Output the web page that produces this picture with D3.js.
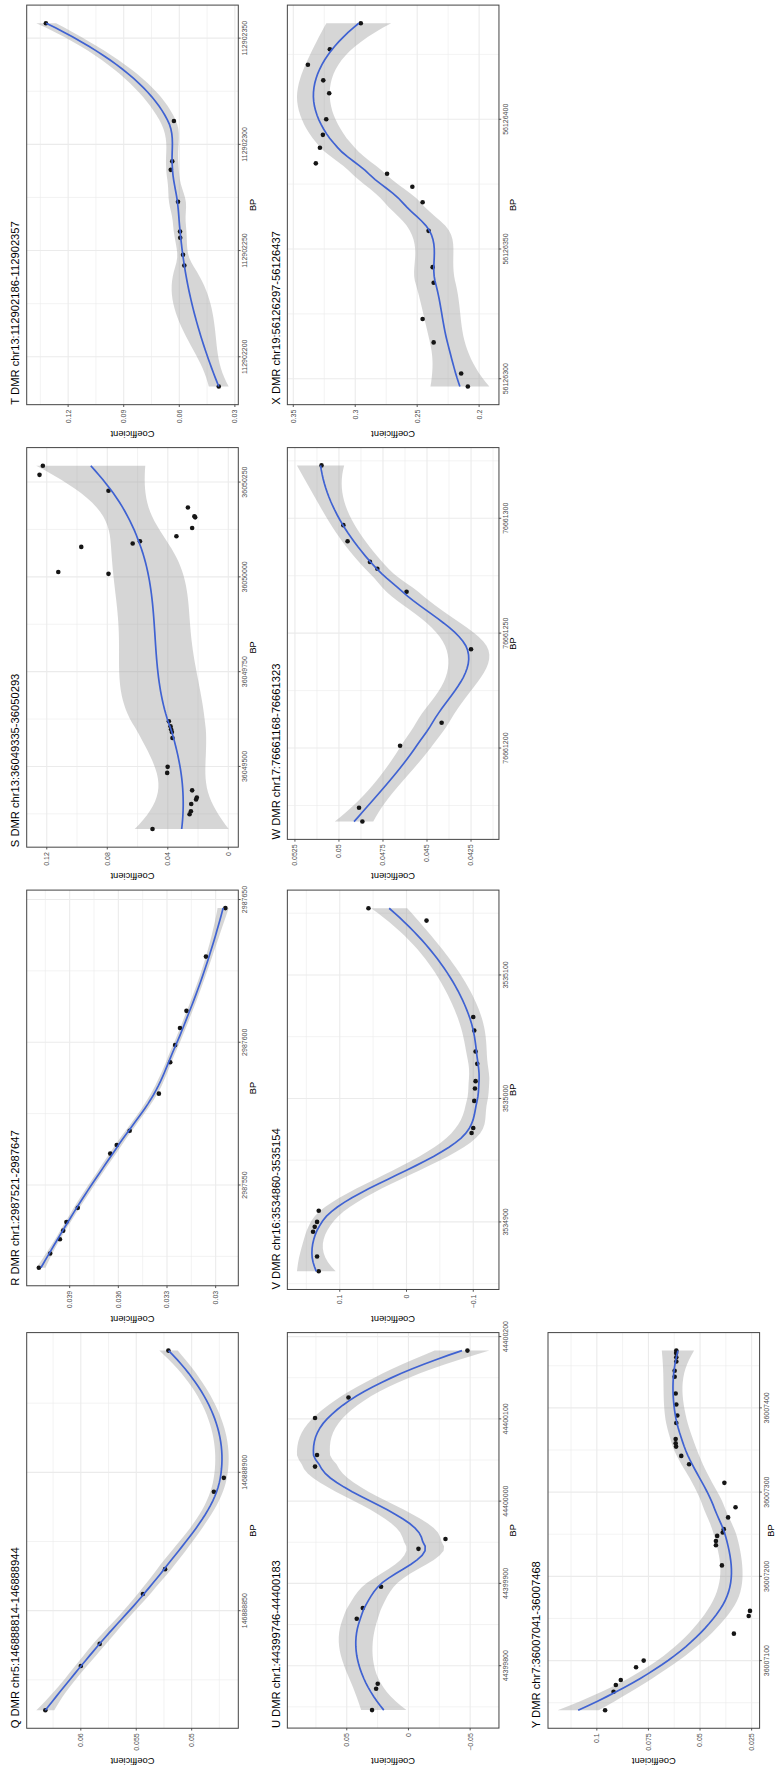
<!DOCTYPE html>
<html>
<head>
<meta charset="utf-8">
<script src="https://cdn.jsdelivr.net/npm/d3@7"></script>
<style>
  html, body { margin: 0; padding: 0; background: #ffffff; }
  svg { display: block; }
  text { font-family: "Liberation Sans", Arial, Helvetica, sans-serif; }
</style>
</head>
<body>
<svg id="fig" width="777" height="1770"></svg>
<script>
// ---- Panel titles ----
const panelTitles = [
  "Q DMR chr5:146888814-146888944",
  "R DMR chr1:2987521-2987647",
  "S DMR chr13:36049335-36050293",
  "T DMR chr13:112902186-112902357",
  "U DMR chr1:44399746-44400183",
  "V DMR chr16:3534860-3535154",
  "W DMR chr17:76661168-76661323",
  "X DMR chr19:56126297-56126437",
  "Y DMR chr7:36007041-36007468"
];

// ---- CpG positions (BP) and coefficients, one pair of arrays per DMR ----
const bpQ = [146888814, 146888830, 146888838, 146888856, 146888865, 146888893, 146888898, 146888944];
const coefQ = [0.0632, 0.0600, 0.0583, 0.0544, 0.0524, 0.0480, 0.0471, 0.0521];

const bpR = [2987521, 2987526, 2987531, 2987534, 2987537, 2987542, 2987561, 2987564, 2987569, 2987582, 2987593, 2987599, 2987605, 2987611, 2987630, 2987647];
const coefR = [0.0409, 0.0402, 0.0396, 0.0394, 0.0392, 0.0385, 0.0365, 0.0361, 0.0353, 0.0335, 0.0328, 0.0325, 0.0322, 0.0318, 0.0306, 0.0294];

const bpS = [36049335, 36049374, 36049382, 36049401, 36049413, 36049418, 36049437, 36049483, 36049499, 36049575, 36049591, 36049598, 36049606, 36049619, 36050008, 36050013, 36050079, 36050088, 36050094, 36050107, 36050129, 36050157, 36050160, 36050183, 36050227, 36050269, 36050293];
const coefS = [0.0501, 0.0256, 0.0247, 0.0245, 0.0213, 0.0208, 0.0239, 0.0404, 0.0401, 0.0369, 0.0373, 0.0378, 0.0382, 0.0393, 0.0792, 0.1124, 0.0972, 0.0632, 0.0584, 0.0343, 0.0239, 0.0219, 0.0224, 0.0267, 0.0792, 0.1248, 0.1226];

const bpT = [112902186, 112902243, 112902248, 112902256, 112902259, 112902273, 112902288, 112902292, 112902311, 112902357];
const coefT = [0.0387, 0.0573, 0.0580, 0.0595, 0.0596, 0.0607, 0.0646, 0.0638, 0.0629, 0.1320];

const bpU = [44399746, 44399772, 44399778, 44399857, 44399870, 44399896, 44399942, 44399954, 44400042, 44400056, 44400101, 44400126, 44400183];
const coefU = [0.0295, 0.0262, 0.0249, 0.0419, 0.0370, 0.0222, -0.0081, -0.0300, 0.0757, 0.0741, 0.0757, 0.0486, -0.0478];

const bpV = [3534860, 3534872, 3534892, 3534896, 3534900, 3534909, 3534972, 3534976, 3534998, 3535008, 3535014, 3535028, 3535038, 3535055, 3535066, 3535144, 3535154];
const coefV = [0.1315, 0.1340, 0.1400, 0.1375, 0.1340, 0.1315, -0.0975, -0.1000, -0.1015, -0.1025, -0.1035, -0.1060, -0.1035, -0.1015, -0.1000, -0.0300, 0.0570];

const bpW = [76661168, 76661174, 76661201, 76661211, 76661243, 76661268, 76661278, 76661281, 76661290, 76661297, 76661323];
const coefW = [0.04867, 0.04886, 0.04653, 0.04417, 0.04250, 0.04616, 0.04782, 0.04824, 0.04951, 0.04975, 0.05099];

const bpX = [56126297, 56126302, 56126314, 56126323, 56126337, 56126343, 56126357, 56126368, 56126374, 56126379, 56126383, 56126389, 56126394, 56126400, 56126410, 56126415, 56126421, 56126427, 56126437];
const coefX = [0.2091, 0.2145, 0.2367, 0.2456, 0.2367, 0.2375, 0.2408, 0.2456, 0.2539, 0.2743, 0.3318, 0.3285, 0.3261, 0.3234, 0.3210, 0.3258, 0.3382, 0.3205, 0.2955];

const bpY = [36007041, 36007063, 36007071, 36007077, 36007092, 36007100, 36007132, 36007153, 36007159, 36007213, 36007237, 36007242, 36007248, 36007252, 36007256, 36007270, 36007282, 36007311, 36007333, 36007343, 36007354, 36007358, 36007363, 36007382, 36007391, 36007404, 36007417, 36007437, 36007444, 36007455, 36007460, 36007465, 36007468];
const coefY = [0.0960, 0.0919, 0.0908, 0.0884, 0.0810, 0.0773, 0.0336, 0.0264, 0.0258, 0.0394, 0.0423, 0.0423, 0.0417, 0.0390, 0.0385, 0.0364, 0.0328, 0.0382, 0.0553, 0.0591, 0.0616, 0.0618, 0.0618, 0.0615, 0.0610, 0.0615, 0.0618, 0.0623, 0.0623, 0.0615, 0.0615, 0.0616, 0.0615];

// ---- Axis breaks ----
const bpTicksQ = [146888850, 146888900];
const coefTicksQ = [0.05, 0.055, 0.06, 0.065];
const bpTicksR = [2987550, 2987600, 2987650];
const coefTicksR = [0.03, 0.033, 0.036, 0.039];
const bpTicksS = [36049500, 36049750, 36050000, 36050250];
const coefTicksS = [0, 0.04, 0.08, 0.12];
const bpTicksT = [112902200, 112902250, 112902300, 112902350];
const coefTicksT = [0.03, 0.06, 0.09, 0.12];
const bpTicksU = [44399800, 44399900, 44400000, 44400100, 44400200];
const coefTicksU = [-0.05, 0, 0.05];
const bpTicksV = [3534900, 3535000, 3535100];
const coefTicksV = [-0.1, 0, 0.1];
const bpTicksW = [76661200, 76661250, 76661300];
const coefTicksW = [0.0425, 0.045, 0.0475, 0.05, 0.0525];
const bpTicksX = [56126300, 56126350, 56126400];
const coefTicksX = [0.2, 0.25, 0.3, 0.35];
const bpTicksY = [36007100, 36007200, 36007300, 36007400];
const coefTicksY = [0.025, 0.05, 0.075, 0.1];

// ---- Grid of plots: 4 columns x 3 rows (drawn landscape, then turned) ----
const panels = [
  { title: panelTitles[0], bp: bpQ, coef: coefQ, bpTicks: bpTicksQ, coefTicks: coefTicksQ, row: 0, col: 0 },
  { title: panelTitles[1], bp: bpR, coef: coefR, bpTicks: bpTicksR, coefTicks: coefTicksR, row: 0, col: 1 },
  { title: panelTitles[2], bp: bpS, coef: coefS, bpTicks: bpTicksS, coefTicks: coefTicksS, row: 0, col: 2 },
  { title: panelTitles[3], bp: bpT, coef: coefT, bpTicks: bpTicksT, coefTicks: coefTicksT, row: 0, col: 3 },
  { title: panelTitles[4], bp: bpU, coef: coefU, bpTicks: bpTicksU, coefTicks: coefTicksU, row: 1, col: 0 },
  { title: panelTitles[5], bp: bpV, coef: coefV, bpTicks: bpTicksV, coefTicks: coefTicksV, row: 1, col: 1 },
  { title: panelTitles[6], bp: bpW, coef: coefW, bpTicks: bpTicksW, coefTicks: coefTicksW, row: 1, col: 2 },
  { title: panelTitles[7], bp: bpX, coef: coefX, bpTicks: bpTicksX, coefTicks: coefTicksX, row: 1, col: 3 },
  { title: panelTitles[8], bp: bpY, coef: coefY, bpTicks: bpTicksY, coefTicks: coefTicksY, row: 2, col: 0 }
];

// ---- Loess smoother (degree 2, tricube weights, kd-tree vertices + cubic Hermite) ----
function invert(A) {
  const n = A.length;
  const M = A.map((r, i) => r.concat(A.map((_, j) => (i === j ? 1 : 0))));
  for (let c = 0; c < n; c++) {
    let piv = c;
    for (let r = c + 1; r < n; r++) if (Math.abs(M[r][c]) > Math.abs(M[piv][c])) piv = r;
    [M[c], M[piv]] = [M[piv], M[c]];
    const d = M[c][c];
    for (let k = 0; k < 2 * n; k++) M[c][k] /= d;
    for (let r = 0; r < n; r++) {
      if (r === c) continue;
      const f = M[r][c];
      for (let k = 0; k < 2 * n; k++) M[r][k] -= f * M[c][k];
    }
  }
  return M.map(r => r.slice(n));
}

// Local quadratic fit at x0: operator rows for the value and the slope.
function localFit(xs, x0, span) {
  const n = xs.length;
  const q = Math.max(Math.floor(n * span), 3);
  const dist = xs.map(x => Math.abs(x - x0));
  const h = dist.slice().sort((a, b) => a - b)[q - 1];
  const w = dist.map(d => { const u = d / h; return u < 1 ? Math.pow(1 - u * u * u, 3) : 0; });
  const X = xs.map(x => { const t = (x - x0) / h; return [1, t, t * t]; });
  const A = [[0, 0, 0], [0, 0, 0], [0, 0, 0]];
  X.forEach((r, j) => {
    for (let a = 0; a < 3; a++) for (let b = 0; b < 3; b++) A[a][b] += w[j] * r[a] * r[b];
  });
  const inv = invert(A);
  const val = X.map((r, j) => w[j] * (inv[0][0] * r[0] + inv[0][1] * r[1] + inv[0][2] * r[2]));
  const slope = X.map((r, j) => w[j] * (inv[1][0] * r[0] + inv[1][1] * r[1] + inv[1][2] * r[2]) / h);
  return { val, slope };
}

// Cell boundaries of the kd tree built on the sorted positions.
function kdVertices(xs, span) {
  const n = xs.length;
  const fc = Math.floor(n * span * 0.2);
  const lo = xs[0], hi = xs[n - 1];
  const mu = 0.005 * Math.max(hi - lo, 1e-10);
  const verts = [lo - mu, hi + mu];
  (function split(l, u) {
    if (u - l + 1 <= fc) return;
    const m = Math.floor((l + u) / 2);
    verts.push(xs[m]);
    split(l, m);
    split(m + 1, u);
  })(0, n - 1);
  return Array.from(new Set(verts)).sort((a, b) => a - b);
}

function logGamma(z) {
  const c = [0.99999999999980993, 676.5203681218851, -1259.1392167224028, 771.32342877765313,
    -176.61502916214059, 12.507343278686905, -0.13857109526572012, 9.9843695780195716e-6, 1.5056327351493116e-7];
  if (z < 0.5) return Math.log(Math.PI / Math.sin(Math.PI * z)) - logGamma(1 - z);
  z -= 1;
  let x = c[0];
  for (let i = 1; i < 9; i++) x += c[i] / (z + i);
  const t = z + 7.5;
  return 0.5 * Math.log(2 * Math.PI) + (z + 0.5) * Math.log(t) - t + Math.log(x);
}

function betacf(a, b, x) {
  const FPMIN = 1e-300;
  const qab = a + b, qap = a + 1, qam = a - 1;
  let c = 1, d = 1 - qab * x / qap;
  if (Math.abs(d) < FPMIN) d = FPMIN;
  d = 1 / d;
  let h = d;
  for (let m = 1; m <= 300; m++) {
    const m2 = 2 * m;
    let aa = m * (b - m) * x / ((qam + m2) * (a + m2));
    d = 1 + aa * d; if (Math.abs(d) < FPMIN) d = FPMIN;
    c = 1 + aa / c; if (Math.abs(c) < FPMIN) c = FPMIN;
    d = 1 / d; h *= d * c;
    aa = -(a + m) * (qab + m) * x / ((a + m2) * (qap + m2));
    d = 1 + aa * d; if (Math.abs(d) < FPMIN) d = FPMIN;
    c = 1 + aa / c; if (Math.abs(c) < FPMIN) c = FPMIN;
    d = 1 / d;
    const del = d * c;
    h *= del;
    if (Math.abs(del - 1) < 3e-14) break;
  }
  return h;
}

function ibeta(x, a, b) {
  if (x <= 0) return 0;
  if (x >= 1) return 1;
  const bt = Math.exp(logGamma(a + b) - logGamma(a) - logGamma(b) + a * Math.log(x) + b * Math.log(1 - x));
  if (x < (a + 1) / (a + b + 2)) return bt * betacf(a, b, x) / a;
  return 1 - bt * betacf(b, a, 1 - x) / b;
}

function tCdf(t, df) {
  const tail = 0.5 * ibeta(df / (df + t * t), df / 2, 0.5);
  return t >= 0 ? 1 - tail : tail;
}

function tQuantile(p, df) {
  let lo = 0, hi = 500;
  for (let i = 0; i < 200; i++) {
    const mid = (lo + hi) / 2;
    if (tCdf(mid, df) < p) lo = mid; else hi = mid;
  }
  return (lo + hi) / 2;
}

function loessSmooth(xs, ys, span = 0.75, level = 0.95, nOut = 80) {
  const n = xs.length;
  const verts = kdVertices(xs, span);
  const vfit = verts.map(v => localFit(xs, v, span));

  // operator row at any position, by Hermite interpolation between vertices
  function operator(x0) {
    let k = d3.bisectRight(verts, x0) - 1;
    k = Math.max(0, Math.min(verts.length - 2, k));
    const a = verts[k], b = verts[k + 1], hh = b - a;
    const t = (x0 - a) / hh;
    const t2 = t * t, t3 = t2 * t;
    const h00 = 2 * t3 - 3 * t2 + 1, h10 = t3 - 2 * t2 + t, h01 = -2 * t3 + 3 * t2, h11 = t3 - t2;
    const A = vfit[k], B = vfit[k + 1];
    return xs.map((_, j) => h00 * A.val[j] + h10 * hh * A.slope[j] + h01 * B.val[j] + h11 * hh * B.slope[j]);
  }

  const L = xs.map(operator);
  const fitted = L.map(r => d3.sum(r, (l, j) => l * ys[j]));
  const rss = d3.sum(ys, (y, i) => (y - fitted[i]) ** 2);
  const IL = L.map((r, i) => r.map((l, j) => (i === j ? 1 : 0) - l));
  let delta1 = 0, delta2 = 0;
  for (let a = 0; a < n; a++) {
    for (let b = 0; b < n; b++) {
      let m = 0;
      for (let i = 0; i < n; i++) m += IL[i][a] * IL[i][b];
      if (a === b) delta1 += m;
      delta2 += m * m;
    }
  }
  const s = Math.sqrt(rss / delta1);
  const tq = tQuantile(0.5 + level / 2, delta1 * delta1 / delta2);
  const [x0, x1] = d3.extent(xs);
  return d3.range(nOut).map(i => {
    const g = x0 + (x1 - x0) * i / (nOut - 1);
    const r = operator(g);
    const fit = d3.sum(r, (l, j) => l * ys[j]);
    const se = s * Math.sqrt(d3.sum(r, l => l * l));
    return { bp: g, fit, lo: fit - tq * se, hi: fit + tq * se };
  });
}

// ---- Layout and style ----
const FIG_W = 1770;               // landscape width before turning
const FIG_H = 777;                // landscape height before turning
const CELL_W = FIG_W / 4;
const ROW_PITCH = 260.65;
const FRAME_TOP0 = 26.7;
const FRAME_H = 211.6;
const RIGHT_INSET = 5.1;
const LEFT_BASE = 24.2;
const TICK_LEN = 2.3;
const FONT_TICK = 7;
const FONT_AXIS = 9.3;
const FONT_TITLE = 11.2;
const GRID = "#ebebeb";
const INK = "#444444";

const svg = d3.select("#fig");
svg.append("rect").attr("width", 777).attr("height", 1770).attr("fill", "#ffffff");
const root = svg.append("g").attr("transform", `translate(0,${FIG_W}) rotate(-90)`);

const fmt = d3.format("");
const measurer = root.append("text").attr("font-size", FONT_TICK).attr("visibility", "hidden");
function textWidth(str) { measurer.text(str); return measurer.node().getComputedTextLength(); }

function minorBreaks(major, domain) {
  if (major.length < 2) return [];
  const step = major[1] - major[0];
  const out = [];
  for (let i = -1; i < major.length; i++) {
    const m = major[0] + (i + 0.5) * step;
    if (m >= domain[0] && m <= domain[1]) out.push(m);
  }
  return out;
}

function expand(ext) {
  const pad = (ext[1] - ext[0]) * 0.05;
  return [ext[0] - pad, ext[1] + pad];
}

panels.forEach(p => {
  const smooth = loessSmooth(p.bp, p.coef);
  const bpDomain = expand(d3.extent(p.bp));
  const coefDomain = expand([
    Math.min(d3.min(p.coef), d3.min(smooth, d => d.lo)),
    Math.max(d3.max(p.coef), d3.max(smooth, d => d.hi))
  ]);
  const coefTicks = p.coefTicks.filter(t => t >= coefDomain[0] && t <= coefDomain[1]);
  const bpTicks = p.bpTicks.filter(t => t >= bpDomain[0] && t <= bpDomain[1]);

  const cellLeft = p.col * CELL_W;
  const labelW = d3.max(coefTicks, t => textWidth(fmt(t)));
  const left = cellLeft + LEFT_BASE + labelW;
  const right = cellLeft + CELL_W - RIGHT_INSET;
  const top = FRAME_TOP0 + p.row * ROW_PITCH;
  const bottom = top + FRAME_H;

  const x = d3.scaleLinear().domain(bpDomain).range([left, right]);
  const y = d3.scaleLinear().domain(coefDomain).range([bottom, top]);

  const g = root.append("g");

  g.append("rect").attr("x", left).attr("y", top).attr("width", right - left).attr("height", bottom - top).attr("fill", "#ffffff");

  // grid
  const grid = g.append("g").attr("stroke", GRID).attr("fill", "none");
  minorBreaks(bpTicks, bpDomain).forEach(v => grid.append("line")
    .attr("x1", x(v)).attr("x2", x(v)).attr("y1", top).attr("y2", bottom).attr("stroke-width", 0.6));
  minorBreaks(coefTicks, coefDomain).forEach(v => grid.append("line")
    .attr("x1", left).attr("x2", right).attr("y1", y(v)).attr("y2", y(v)).attr("stroke-width", 0.6));
  bpTicks.forEach(v => grid.append("line")
    .attr("x1", x(v)).attr("x2", x(v)).attr("y1", top).attr("y2", bottom).attr("stroke-width", 1.1));
  coefTicks.forEach(v => grid.append("line")
    .attr("x1", left).attr("x2", right).attr("y1", y(v)).attr("y2", y(v)).attr("stroke-width", 1.1));

  // confidence ribbon
  g.append("path").datum(smooth)
    .attr("d", d3.area().x(d => x(d.bp)).y0(d => y(d.lo)).y1(d => y(d.hi)))
    .attr("fill", "#999999").attr("fill-opacity", 0.4);

  // observations
  g.append("g").selectAll("circle").data(p.bp).join("circle")
    .attr("cx", d => x(d)).attr("cy", (d, i) => y(p.coef[i]))
    .attr("r", 2.3).attr("fill", "#151515");

  // fitted curve
  g.append("path").datum(smooth)
    .attr("d", d3.line().x(d => x(d.bp)).y(d => y(d.fit)))
    .attr("fill", "none").attr("stroke", "#3f62d2").attr("stroke-width", 1.7);

  // border
  g.append("rect").attr("x", left).attr("y", top).attr("width", right - left).attr("height", bottom - top)
    .attr("fill", "none").attr("stroke", INK).attr("stroke-width", 1);

  // ticks
  const ticks = g.append("g").attr("stroke", INK).attr("stroke-width", 0.9);
  bpTicks.forEach(v => ticks.append("line").attr("x1", x(v)).attr("x2", x(v)).attr("y1", bottom).attr("y2", bottom + TICK_LEN));
  coefTicks.forEach(v => ticks.append("line").attr("x1", left - TICK_LEN).attr("x2", left).attr("y1", y(v)).attr("y2", y(v)));

  // tick labels
  g.append("g").selectAll("text").data(bpTicks).join("text")
    .attr("x", d => x(d)).attr("y", bottom + 9)
    .attr("text-anchor", "middle").attr("font-size", FONT_TICK).attr("fill", "#4d4d4d")
    .text(d => fmt(d));
  g.append("g").selectAll("text").data(coefTicks).join("text")
    .attr("x", left - 5).attr("y", d => y(d)).attr("dy", "0.35em")
    .attr("text-anchor", "end").attr("font-size", FONT_TICK).attr("fill", "#4d4d4d")
    .text(d => fmt(d));

  // axis titles (the bottom row's BP title is kept inside the canvas)
  g.append("text").attr("x", (left + right) / 2).attr("y", Math.min(bottom + 17.3, FIG_H - 3.5))
    .attr("text-anchor", "middle").attr("font-size", FONT_AXIS).attr("fill", "#000")
    .text("BP");
  g.append("text")
    .attr("transform", `translate(${cellLeft + 8.7},${(top + bottom) / 2}) rotate(-90)`)
    .attr("dy", "0.35em").attr("text-anchor", "middle").attr("font-size", FONT_AXIS).attr("fill", "#000")
    .text("Coefficient");

  // plot title
  g.append("text").attr("x", left).attr("y", top - 7.7)
    .attr("font-size", FONT_TITLE).attr("fill", "#000")
    .text(p.title);
});

measurer.remove();
</script>
</body>
</html>
